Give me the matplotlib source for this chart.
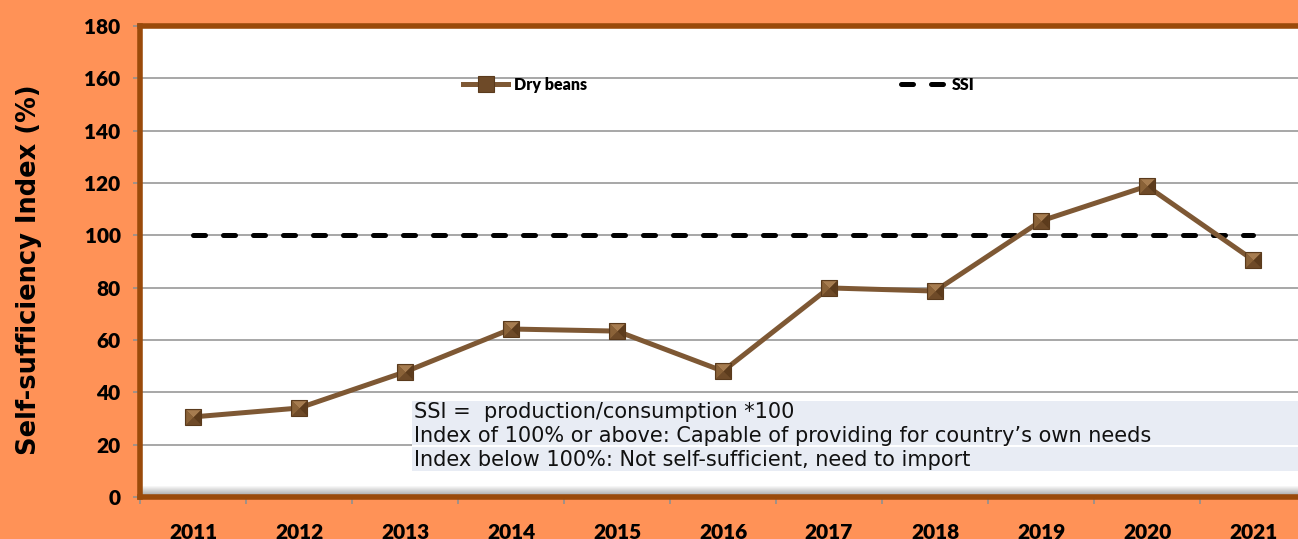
import matplotlib.pyplot as plt
from matplotlib.patches import Rectangle
import numpy as np

years = ['2011', '2012', '2013', '2014', '2015', '2016', '2017', '2018', '2019', '2020', '2021']
dry_beans = [30.6, 34.0, 47.8, 64.2, 63.4, 48.1, 79.9, 78.7, 105.5, 118.8, 90.6]
ssi = [100] * len(years)
y_ticks = [0, 20, 40, 60, 80, 100, 120, 140, 160, 180]
note_lines = ['SSI =  production/consumption *100',
              'Index of 100% or above: Capable of providing for country\u2019s own needs',
              'Index below 100%: Not self-sufficient, need to import']

bg = '#FF9257'
border = '#9A4A0A'
line_col = '#7E5834'
tick_font = ['Lato', 'DejaVu Sans']

W, H = 1298, 539
fig = plt.figure(figsize=(W / 100, H / 100), dpi=100, facecolor=bg)
ax = fig.add_axes([140 / W, 1 - 497 / H, 1166 / W, 471 / H])
ax.set_facecolor('white')

x = np.arange(len(years))
ax.set_xlim(-0.5, len(years) - 0.5)
ax.set_ylim(0, 180)

for yv in y_ticks[1:-1]:
    ax.axhline(yv, color='#A0A0A0', lw=1.3, zorder=1)

# grey "floor" shading above the bottom axis
shade = np.linspace(1.0, 0.62, 12)
floor = np.repeat(shade[:, None, None], 3, axis=2)
ax.imshow(floor, aspect='auto', extent=(0, 1, 0, 12 / 471), transform=ax.transAxes, zorder=1.5)

ssi_line, = ax.plot(x, ssi, color='black', lw=3.6, dashes=(2.4, 3.6), dash_capstyle='round',
                    zorder=2, label='SSI')
beans_line, = ax.plot(x, dry_beans, color=line_col, lw=3.6, zorder=3, label='Dry beans',
                      marker='s', ms=12, mfc='#6E4A28', mec='#5A3A1C', mew=0.8)

# pyramid shading of the square markers
facets = [([(-1, 1), (1, 1), (0, 0)], '#A67C50'),
          ([(-1, -1), (-1, 1), (0, 0)], '#8A6238'),
          ([(1, -1), (1, 1), (0, 0)], '#5C3B1C'),
          ([(-1, -1), (1, -1), (0, 0)], '#6E4A28')]
for verts, col in facets:
    ax.plot(x, dry_beans, ls='none', marker=verts, ms=10.5, mfc=col, mec='none', zorder=4)

ax.set_yticks(y_ticks)
ax.set_yticklabels([str(v) for v in y_ticks], family=tick_font, fontweight='heavy', fontsize=15)
ax.set_xticks(x)
ax.set_xticklabels(years, family=tick_font, fontweight='heavy', fontsize=15)
ax.set_xticks(np.arange(len(years) + 1) - 0.5, minor=True)
ax.tick_params(axis='x', which='major', length=0, pad=19)
ax.tick_params(axis='x', which='minor', length=5, color='#909090', width=1.2)
ax.tick_params(axis='y', length=5, color='#909090', width=1.2, pad=9)

for side in ['left', 'top', 'bottom']:
    ax.spines[side].set_color(border)
    ax.spines[side].set_linewidth(4)
ax.spines['right'].set_visible(False)

ax.set_ylabel('Self-sufficiency Index (%)', fontsize=18.5, fontweight='bold')
ax.yaxis.set_label_coords(-98 / 1166, 0.483)

ax.legend(handles=[beans_line, ssi_line],
          loc='center left', bbox_to_anchor=(309 / 1166, 1 - 59 / 471), ncol=2, frameon=False,
          handlelength=2.8, handletextpad=0.4, columnspacing=19.6,
          prop={'family': tick_font, 'weight': 'heavy', 'size': 11.5})

# note box
fig.patches.append(Rectangle((412 / W, 1 - 471 / H), (W - 412) / W, 70 / H,
                             transform=fig.transFigure, facecolor='white', edgecolor='none', zorder=5))
fig.patches.append(Rectangle((412 / W, 1 - 445 / H), (W - 412) / W, 44 / H,
                             transform=fig.transFigure, facecolor='#E8ECF4', edgecolor='none', zorder=5))
fig.patches.append(Rectangle((412 / W, 1 - 471 / H), (W - 412) / W, 24 / H,
                             transform=fig.transFigure, facecolor='#E8ECF4', edgecolor='none', zorder=5))
for line, yc in zip(note_lines, [412, 436, 460]):
    fig.text(414 / W, 1 - yc / H, line, fontsize=15, color='#111111', va='center', ha='left', zorder=6)

fig.savefig('out.png', dpi=100, facecolor=bg)
